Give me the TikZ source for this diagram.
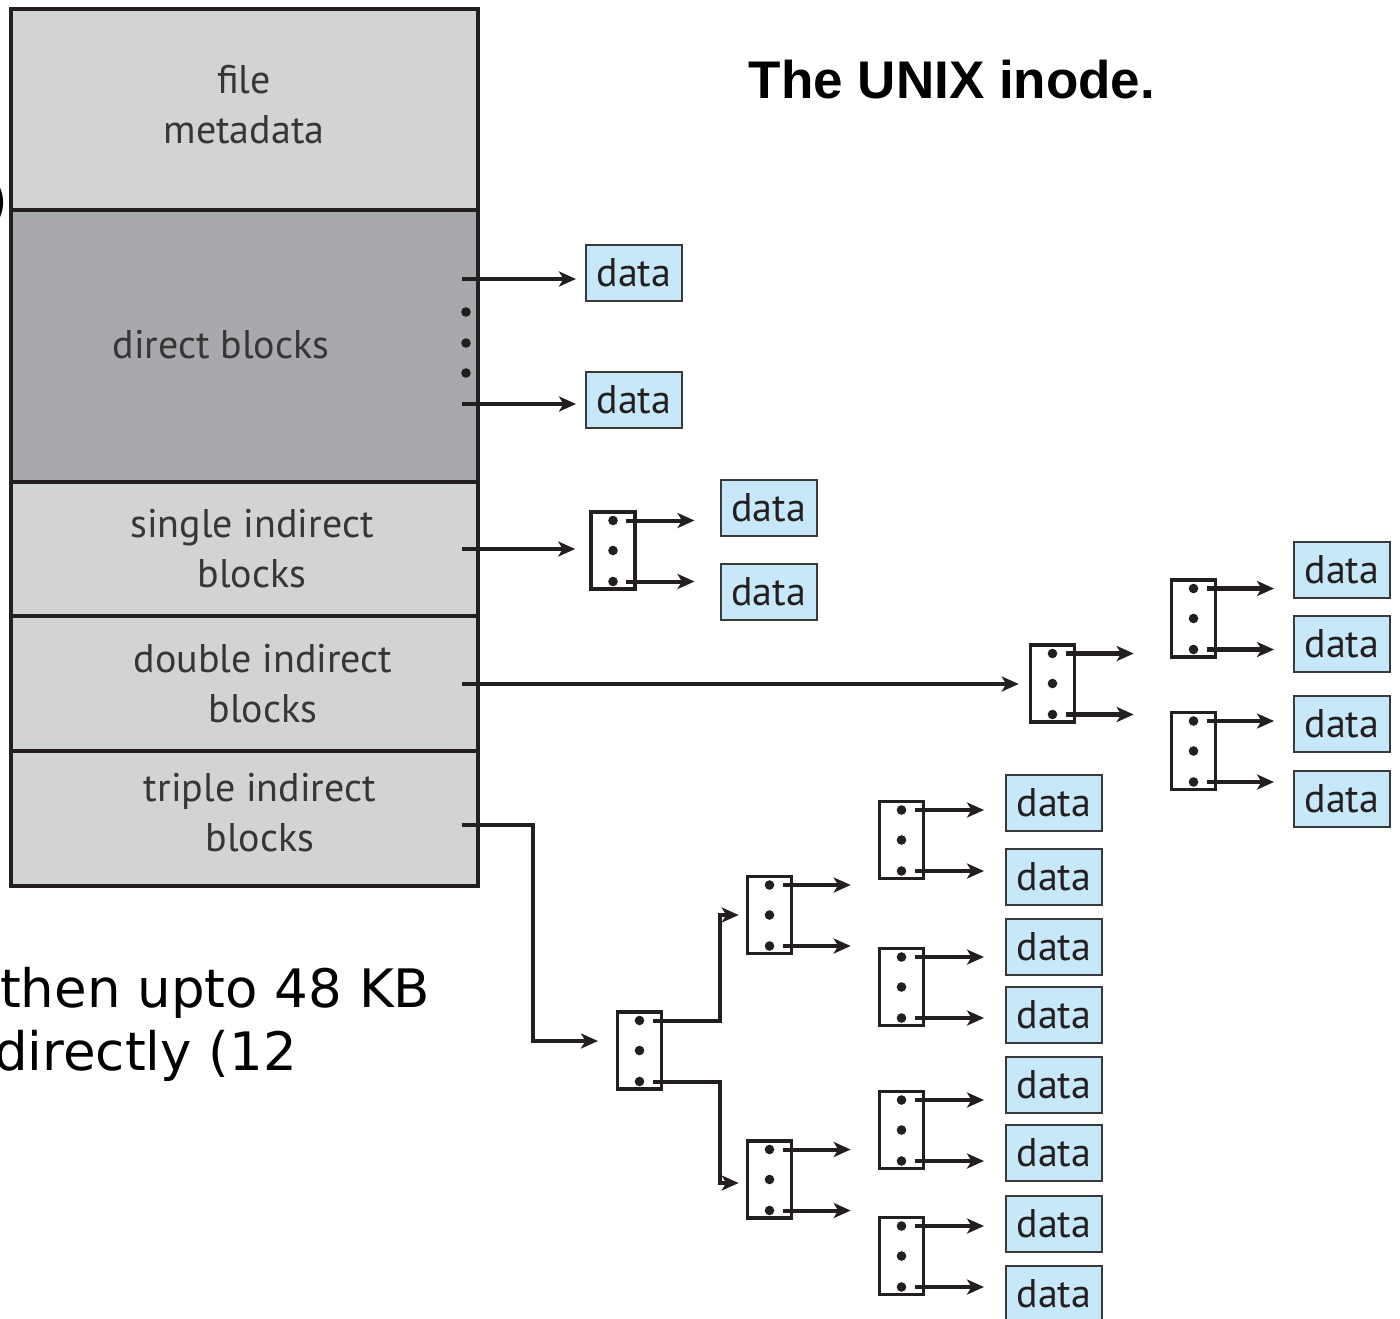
\documentclass[tikz,border=0pt]{standalone}
\usepackage{fontspec}
\usetikzlibrary{arrows.meta,calc}
\newfontfamily\lblfont{PT Sans}
\newfontfamily\ttlfont{Liberation Sans}
\newfontfamily\notefont{DejaVu Sans}
\definecolor{ink}{HTML}{231F20}
\definecolor{metagray}{HTML}{D1D3D4}
\definecolor{directgray}{HTML}{A7A9AC}
\definecolor{blockblue}{HTML}{C6E8F8}
\definecolor{boxedge}{HTML}{3A3A3C}
\tikzset{
  inodesect/.style={draw=ink, line width=3.3pt, minimum width=467pt, inner sep=0pt},
  lbl/.style={font=\lblfont\fontsize{40}{50}\selectfont, text=ink!90, align=center, inner sep=0pt},
  datablock/.style={draw=boxedge, line width=2pt, fill=blockblue, minimum width=96pt,
    minimum height=56pt, inner sep=0pt, font=\lblfont\fontsize{40}{48}\selectfont, text=ink},
  ptrblock/.style={draw=ink, line width=3.6pt, minimum width=44pt, minimum height=77pt, inner sep=0pt},
  ptr/.style={draw=ink, line width=4pt, -{Stealth[length=17pt,width=15pt,inset=4.5pt]}},
  heavyptr/.style={ptr, line width=4.8pt},
  pics/ptrblk/.style={code={
    \node[ptrblock] (-box) at (0,0) {};
    \fill[ink] (0,-30) circle (4.8pt) (0,0) circle (4.8pt) (0,31) circle (4.8pt);
    \coordinate (-top) at (13,-30);
    \coordinate (-bot) at (13,31);
  }}
}
\begin{document}
\begin{tikzpicture}[x=1pt,y=-1pt]
\useasboundingbox (0,0) rectangle (1400,1318);

% the inode
\node[inodesect, fill=metagray,   minimum height=201pt] (meta)   at (244.5,109.5) {};
\node[inodesect, fill=directgray, minimum height=272pt] (direct) at (244.5,346) {};
\node[inodesect, fill=metagray,   minimum height=134pt] (single) at (244.5,549) {};
\node[inodesect, fill=metagray,   minimum height=135pt] (double) at (244.5,683.5) {};
\node[inodesect, fill=metagray,   minimum height=135pt] (triple) at (244.5,818.5) {};

\node[lbl] (metalbl)   at (244,105) {file\\metadata};
\node[lbl] (directlbl) at (221,345) {direct blocks};
\node[lbl] (singlelbl) at (252,549) {single indirect\\blocks};
\node[lbl] (doublelbl) at (263,684) {double indirect\\blocks};
\node[lbl] (triplelbl) at (260,813) {triple indirect\\blocks};

% title and side note
\node[font=\ttlfont\bfseries\fontsize{53}{60}\selectfont, text=black] (title) at (952,80) {The UNIX inode.};
\node[font=\notefont\fontsize{53}{64}\selectfont, anchor=base west, inner sep=0pt] (note1) at (0,1007) {then upto 48 KB};
\node[font=\notefont\fontsize{53}{64}\selectfont, anchor=base west, inner sep=0pt] (note2) at (-6,1070) {directly (12};
\node[font=\notefont\fontsize{53}{64}\selectfont, anchor=base east, inner sep=0pt] (paren) at (8,219) {)};

% direct blocks
\fill[ink] (466,312) circle (4.8pt) (466,343) circle (4.8pt) (466,373) circle (4.8pt);
\node[datablock] (dd1) at (634,273) {data};
\node[datablock] (dd2) at (634,400) {data};
\coordinate (dA) at (462,279);
\coordinate (dB) at (462,404);
\draw[ptr, shorten >=9pt] (dA) -- (dA -| dd1.west);
\draw[ptr, shorten >=9pt] (dB) -- (dB -| dd2.west);

% single indirect
\pic (s1) at (613,550.5) {ptrblk};
\node[datablock] (ds1) at (768.5,507.5) {data};
\node[datablock] (ds2) at (768.5,592) {data};
\coordinate (sA) at (462,549);
\draw[ptr, shorten >=14pt] (sA) -- (sA -| s1-box.west);
\draw[ptr, shorten >=25pt] (s1-top) -- (s1-top -| ds1.west);
\draw[ptr, shorten >=25pt] (s1-bot) -- (s1-bot -| ds2.west);

% double indirect
\pic (d1) at (1052.5,683.5) {ptrblk};
\pic (d2a) at (1193.5,618.5) {ptrblk};
\pic (d2b) at (1193.5,751) {ptrblk};
\node[datablock] (dx1) at (1342,570) {data};
\node[datablock] (dx2) at (1342,644) {data};
\node[datablock] (dx3) at (1342,724) {data};
\node[datablock] (dx4) at (1342,799) {data};
\coordinate (xA) at (462,684);
\draw[ptr, line width=3.6pt, shorten >=10pt] (xA) -- (xA -| d1-box.west);
\draw[heavyptr, shorten >=36pt] (d1-top) -- (d1-top -| d2a-box.west);
\draw[heavyptr, shorten >=36pt] (d1-bot) -- (d1-bot -| d2b-box.west);
\draw[heavyptr, shorten >=19pt] (d2a-top) -- (d2a-top -| dx1.west);
\draw[heavyptr, shorten >=19pt] (d2a-bot) -- (d2a-bot -| dx2.west);
\draw[heavyptr, shorten >=19pt] (d2b-top) -- (d2b-top -| dx3.west);
\draw[heavyptr, shorten >=19pt] (d2b-bot) -- (d2b-bot -| dx4.west);

% triple indirect
\pic (t1) at (639.5,1050.5) {ptrblk};
\pic (t2a) at (769.5,915) {ptrblk};
\pic (t2b) at (769.5,1179.5) {ptrblk};
\pic (t3a) at (901.5,840) {ptrblk};
\pic (t3b) at (901.5,987) {ptrblk};
\pic (t3c) at (901.5,1130) {ptrblk};
\pic (t3d) at (901.5,1256) {ptrblk};
\foreach \y [count=\i] in {803,877,947,1015,1085,1153,1224,1294}
  \node[datablock] (dt\i) at (1054,\y) {data};
\coordinate (tA) at (462,825);
\coordinate (tIn) at (598,1041);
\draw[ptr] (tA) -| (533,1041) -- (tIn);
\draw[ptr, shorten >=7pt] (t1-top) -- ++(67,0) |- (t2a-box.west);
\draw[ptr, shorten >=7pt] (t1-bot) -- ++(67,0) |- ($(t2b-box.west)+(0,3.5)$);
\draw[ptr, shorten >=27pt] (t2a-top) -- (t2a-top -| t3a-box.west);
\draw[ptr, shorten >=27pt] (t2a-bot) -- (t2a-bot -| t3b-box.west);
\draw[ptr, shorten >=27pt] (t2b-top) -- (t2b-top -| t3c-box.west);
\draw[ptr, shorten >=27pt] (t2b-bot) -- (t2b-bot -| t3d-box.west);
\draw[ptr, shorten >=21pt] (t3a-top) -- (t3a-top -| dt1.west);
\draw[ptr, shorten >=21pt] (t3a-bot) -- (t3a-bot -| dt2.west);
\draw[ptr, shorten >=21pt] (t3b-top) -- (t3b-top -| dt3.west);
\draw[ptr, shorten >=21pt] (t3b-bot) -- (t3b-bot -| dt4.west);
\draw[ptr, shorten >=21pt] (t3c-top) -- (t3c-top -| dt5.west);
\draw[ptr, shorten >=21pt] (t3c-bot) -- (t3c-bot -| dt6.west);
\draw[ptr, shorten >=21pt] (t3d-top) -- (t3d-top -| dt7.west);
\draw[ptr, shorten >=21pt] (t3d-bot) -- (t3d-bot -| dt8.west);
\end{tikzpicture}
\end{document}
